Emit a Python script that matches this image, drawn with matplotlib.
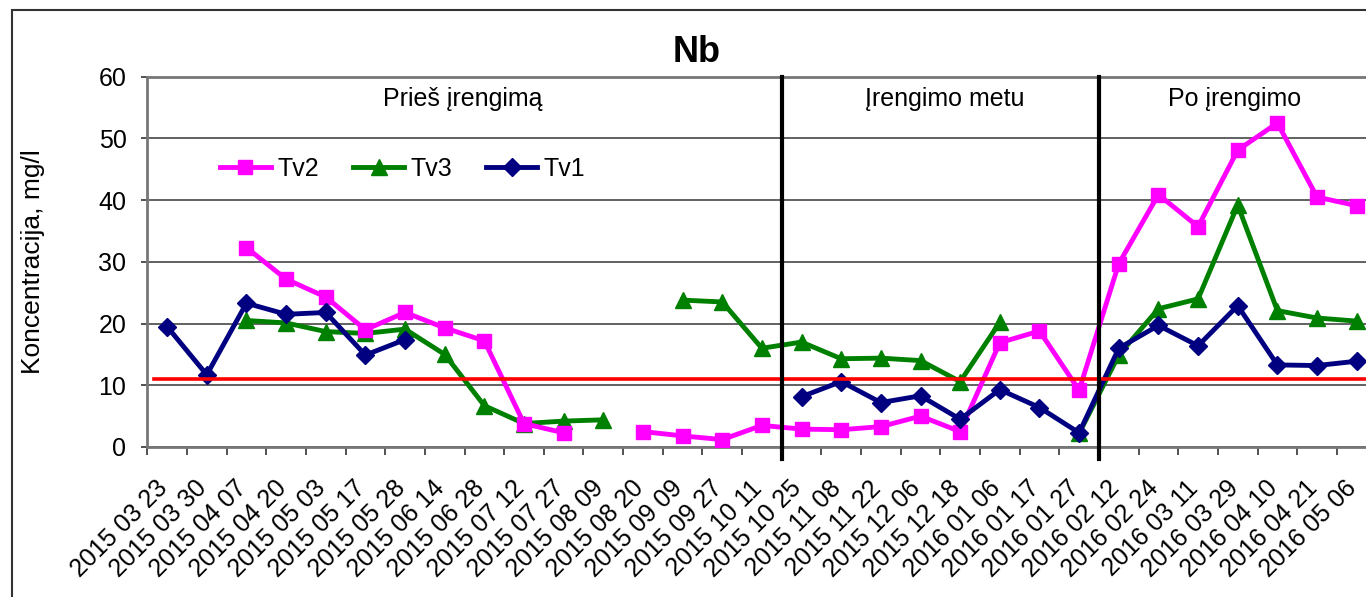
import numpy as np
import matplotlib
matplotlib.use("Agg")
import matplotlib.pyplot as plt
from matplotlib.patches import Rectangle
from matplotlib.transforms import ScaledTranslation

plt.rcParams['font.family'] = ['Liberation Sans', 'DejaVu Sans']

dates = ["2015 03 23", "2015 03 30", "2015 04 07", "2015 04 20", "2015 05 03",
         "2015 05 17", "2015 05 28", "2015 06 14", "2015 06 28", "2015 07 12",
         "2015 07 27", "2015 08 09", "2015 08 20", "2015 09 09", "2015 09 27",
         "2015 10 11", "2015 10 25", "2015 11 08", "2015 11 22", "2015 12 06",
         "2015 12 18", "2016 01 06", "2016 01 17", "2016 01 27", "2016 02 12",
         "2016 02 24", "2016 03 11", "2016 03 29", "2016 04 10", "2016 04 21",
         "2016 05 06"]

nan = np.nan
tv2 = [nan, nan, 32.3, 27.2, 24.3, 19.0, 21.8, 19.3, 17.2, 3.8,
       2.3, nan, 2.5, 1.8, 1.2, 3.5, 2.9, 2.8, 3.3, 5.0,
       2.5, 16.9, 18.8, 9.2, 29.7, 40.9, 35.7, 48.1, 52.5, 40.5,
       39.1]
tv3 = [nan, nan, 20.5, 20.1, 18.7, 18.4, 19.1, 15.0, 6.7, 3.8,
       4.2, 4.4, nan, 23.8, 23.5, 16.0, 17.0, 14.3, 14.4, 14.0,
       10.6, 20.2, nan, 2.2, 14.9, 22.4, 24.0, 39.2, 22.1, 20.9,
       20.4]
tv1 = [19.5, 11.7, 23.3, 21.5, 21.8, 14.9, 17.4, nan, nan, nan,
       nan, nan, nan, nan, nan, nan, 8.15, 10.6, 7.2, 8.3,
       4.5, 9.3, 6.4, 2.3, 16.0, 19.7, 16.4, 22.9, 13.3, 13.2,
       13.9]
limit_value = 11
phase_labels = ["Prieš įrengimą", "Įrengimo metu", "Po įrengimo"]
phase_label_x = [7.46, 19.62, 26.93]
phase_bounds = [15.5, 23.5]

W, H = 1366, 597
fig = plt.figure(figsize=(W / 100, H / 100), dpi=100)

# outer chart frame (extends beyond picture right/bottom)
fig.patches.append(Rectangle((12 / W, -0.1), 1.2, 1 - 10 / H + 0.1,
                             transform=fig.transFigure, fill=False,
                             edgecolor='#333333', lw=1.5))

ax_left = 147.3 / W
ax_w = 1229.2 / W
ax_bottom = (H - 447) / H
ax_h = (447 - 76.7) / H
ax = fig.add_axes([ax_left, ax_bottom, ax_w, ax_h])

x = np.arange(len(dates))
ax.set_xlim(-0.5, len(dates) - 0.5)
ax.set_ylim(0, 60)

ax.set_yticks(np.arange(0, 61, 10))
ax.yaxis.grid(True, color='#555555', lw=1.3)
ax.set_axisbelow(True)
ax.tick_params(axis='y', labelsize=18, length=4.5, width=1.2, color='#333333', pad=10.5)

ax.set_xticks(np.arange(-0.5, len(dates), 1))
ax.set_xticklabels([])
ax.set_xticks(x, minor=True)
ax.set_xticklabels(dates, minor=True, rotation=45, ha='right',
                   rotation_mode='anchor', fontsize=18)
ax.tick_params(axis='x', which='major', length=6, width=1.2, color='#333333')
ax.tick_params(axis='x', which='minor', length=0, pad=21)
offset = ScaledTranslation(-12 / 100, 0, fig.dpi_scale_trans)
for lab in ax.get_xticklabels(minor=True):
    lab.set_transform(lab.get_transform() + offset)

for s in ['left', 'bottom', 'top']:
    ax.spines[s].set_color('#777777')
    ax.spines[s].set_linewidth(2)
ax.spines['right'].set_visible(False)

ax.set_ylabel("Koncentracija, mg/l", fontsize=19)
ax.yaxis.set_label_coords(-0.083, 0.5)

ax.plot(x, tv2, color='#FF00FF', lw=3.5, marker='s', markersize=10.5,
        label='Tv2', zorder=4)
ax.plot(x, tv3, color='#008000', lw=3.5, marker='^', markersize=11.5,
        label='Tv3', zorder=3)
ax.plot(x, tv1, color='#000080', lw=3.5, marker='D', markersize=9,
        label='Tv1', zorder=5)

ax.plot([-0.33, len(dates) - 0.5], [limit_value, limit_value], color='#FF0000',
        lw=2.6, zorder=6)

for b in phase_bounds:
    ax.plot([b, b], [60, -2], color='black', lw=3, clip_on=False, zorder=7)

for lbl, px in zip(phase_labels, phase_label_x):
    ax.text(px, 56.4, lbl, ha='center', va='center', fontsize=18)

fig.text(697 / W, 1 - 52 / H, "Nb", ha='center', va='center',
         fontsize=26, fontweight='bold')

ax.legend(loc='center left', bbox_to_anchor=(0.059, 0.751), ncol=3,
          frameon=False, fontsize=18, handlelength=2.05, handletextpad=0.25,
          columnspacing=1.36, borderpad=0, borderaxespad=0)

fig.savefig("out.png", dpi=100)
